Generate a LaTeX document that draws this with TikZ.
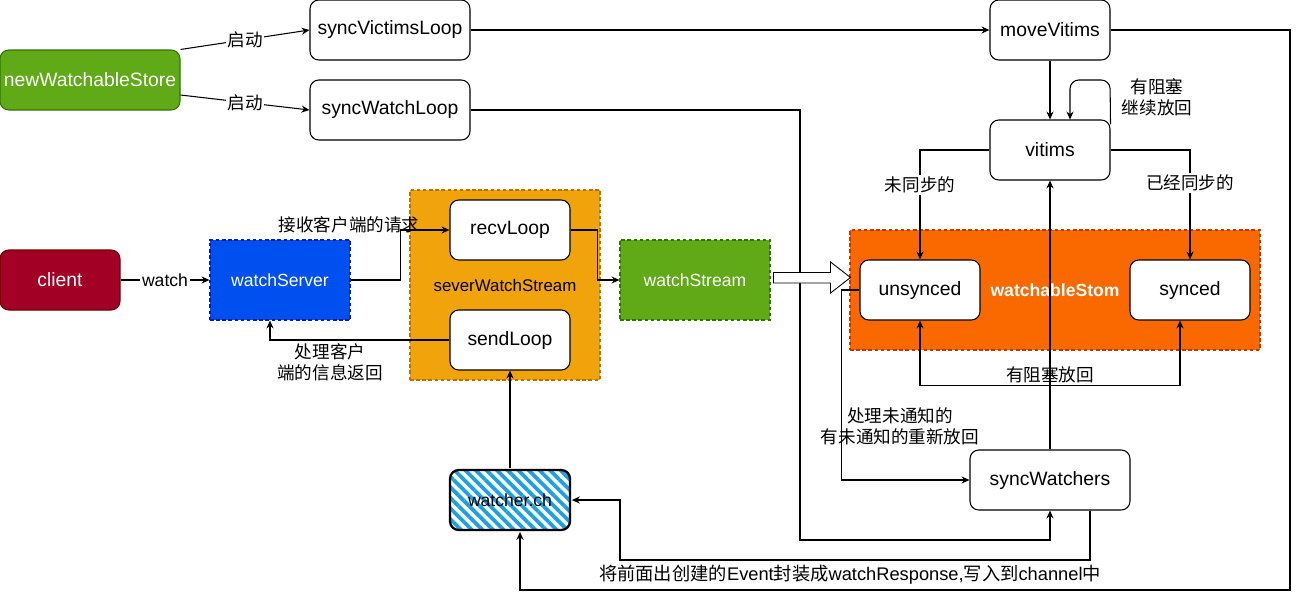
\documentclass[tikz,border=0pt]{standalone}
\usepackage{fontspec}
\setmainfont{Liberation Sans}
\newfontfamily\cjk{Noto Sans CJK SC}
\usetikzlibrary{arrows.meta, patterns.meta}

\definecolor{nwsgreen}{HTML}{60A917}
\definecolor{nwsdark}{HTML}{2D7600}
\definecolor{clientred}{HTML}{A20025}
\definecolor{clientdark}{HTML}{6F0000}
\definecolor{serverblue}{HTML}{0050EF}
\definecolor{serverdark}{HTML}{001DBC}
\definecolor{swsorange}{HTML}{F0A30A}
\definecolor{swsdark}{HTML}{BD7000}
\definecolor{storeorange}{HTML}{FA6800}
\definecolor{storedark}{HTML}{C73500}
\definecolor{hatchblue}{HTML}{1BA1E2}

\begin{document}
\begin{tikzpicture}[line width=0.6pt, >={Stealth[length=4.5pt, width=4pt]},
  box/.style={draw, rounded corners=5pt, fill=white, minimum width=2.4cm, minimum height=1.2cm, inner sep=0pt, font=\fontsize{11}{13}\selectfont},
  dashbox/.style={draw, dash pattern=on 2pt off 1.5pt, minimum width=2.8cm, minimum height=1.6cm, inner sep=0pt, font=\fontsize{10}{12}\selectfont},
  lbl/.style={font=\cjk\fontsize{10}{12}\selectfont, align=center, inner sep=1pt},
  tag/.style={lbl, fill=white}]

\useasboundingbox (0,0) rectangle (25.98,-11.98);

% Lancement
\node[box, fill=nwsgreen, draw=nwsdark, text=white, minimum width=3.6cm] (nws) at (1.8,-1.6) {newWatchableStore};
\node[box, minimum width=3.2cm] (victims) at (7.8,-0.6) {syncVictimsLoop};
\node[box, minimum width=3.2cm] (watchloop) at (7.8,-2.2) {syncWatchLoop};
\node[box] (movev) at (21,-0.6) {moveVitims};
\node[box] (vitims) at (21,-3) {vitims};

% Client et serveur
\node[box, fill=clientred, draw=clientdark, text=white] (client) at (1.2,-5.6) {client};
\node[dashbox, fill=serverblue, draw=serverdark, text=white] (server) at (5.6,-5.6) {watchServer};

% severWatchStream
\node[dashbox, fill=swsorange, draw=swsdark, minimum width=3.8cm, minimum height=3.8cm, font=\fontsize{9.6}{11}\selectfont] (sws) at (10.1,-5.7) {severWatchStream};
\node[box] (recv) at (10.2,-4.6) {recvLoop};
\node[box] (send) at (10.2,-6.8) {sendLoop};
\node[dashbox, fill=nwsgreen, draw=nwsdark, text=white, minimum width=3cm] (stream) at (13.9,-5.6) {watchStream};

% watchableStom
\node[dashbox, fill=storeorange, draw=storedark, text=white, minimum width=8.2cm, minimum height=2.4cm, font=\bfseries\fontsize{10}{12}\selectfont] (store) at (21.1,-5.8) {watchableStom};
\node[box] (unsynced) at (18.4,-5.8) {unsynced};
\node[box] (synced) at (23.8,-5.8) {synced};
\node[box, minimum width=3.2cm] (syncw) at (21,-9.6) {syncWatchers};
\node[box, fill=none, line width=1.3pt, pattern={Lines[angle=-45, distance=0.15cm, line width=0.075cm]}, pattern color=hatchblue, font=\fontsize{10}{12}\selectfont] (wch) at (10.2,-10) {watcher.ch};

% Relations
\draw[->] (nws.north east) -- node[tag] (l1) {启动} (victims.west);
\draw[->] ([yshift=-0.3cm]nws.east) -- node[tag] (l2) {启动} (watchloop.west);
\draw[->] (victims.east) -- (movev.west);
\coordinate (outer) at (25.8,-11.8);
\draw[->] (movev.east) -| (outer) -| ([xshift=0.2cm]wch.south);
\draw[->] (movev.south) -- (vitims.north);
\coordinate (loop) at (22.2,-1.6);
\draw[->, rounded corners=5pt] ([yshift=-0.1cm]vitims.north east) -- (loop) -| ([xshift=0.4cm]vitims.north);
\node[lbl] (blk) at (23.14,-1.94) {有阻塞\\继续放回};

\draw[->] (vitims.west) -| node[tag, pos=0.66] (l3) {未同步的} (unsynced.north);
\draw[->] (vitims.east) -| node[tag, pos=0.65] (l4) {已经同步的} (synced.north);
\draw[<->] (unsynced.south) -- ++(0,-1.3) -| node[lbl, pos=0.25, above] (l5) {有阻塞放回} ([xshift=-0.2cm]synced.south);
\draw[->] (unsynced.west) -- ++(-0.36,0) |- (syncw.west);
\node[lbl] (l6) at (18,-8.52) {处理未通知的\\有未通知的重新放回};
\draw[->] (syncw.north) -- (vitims.south);

\coordinate (wlbend) at (16,-10.8);
\draw[->] (watchloop.east) -| (wlbend) -| (syncw.south);
\coordinate (chbend) at (12.4,-11.2);
\draw[->] ([xshift=0.8cm]syncw.south) |- (chbend) |- (wch.east);
\node[lbl, font=\cjk\fontsize{10.4}{12}\selectfont] (l7) at (17,-11.5) {将前面出创建的{\rmfamily Event}封装成{\rmfamily watchResponse,}写入到{\rmfamily channel}中};

\draw[->] (client.east) -- node[tag, font=\fontsize{10}{12}\selectfont] (l8) {watch} (server.west);
\draw[->] (server.east) -- ++(1,0) |- (recv.west);
\node[lbl] (l9) at (6.98,-4.5) {接收客户端的请求};
\draw[->] (recv.east) -- ++(0.54,0) |- (stream.west);
\draw[->] (send.west) -| ([xshift=-0.2cm]server.south);
\node[lbl] (l10) at (6.6,-7.24) {处理客户\\端的信息返回};
\draw[->] (wch.north) -- (send.south);

% Flèche creuse
\draw[fill=white, line width=0.5pt] ([xshift=0.06cm, yshift=0.15cm]stream.east) -- ++(1.14,0) -- ++(0,0.21) -- ++(0.4,-0.31) -- ++(-0.4,-0.31) -- ++(0,0.2) -- ++(-1.14,0) -- cycle;

\end{tikzpicture}
\end{document}
